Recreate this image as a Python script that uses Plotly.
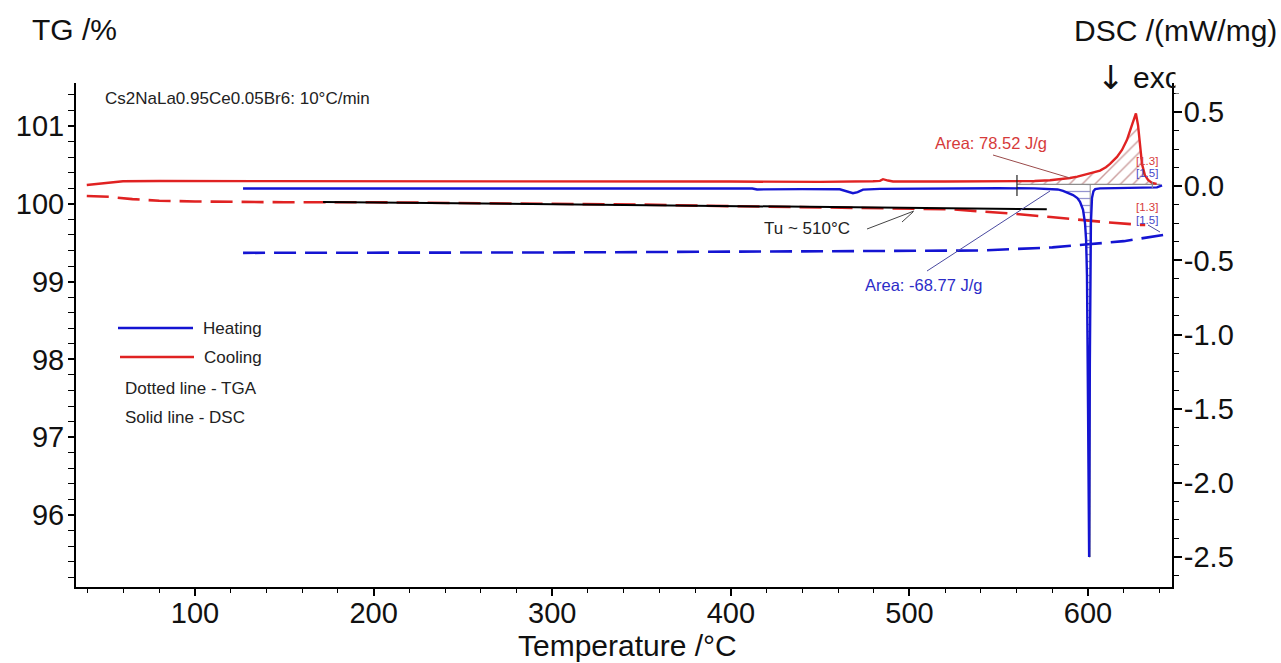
import numpy as np
import plotly.graph_objects as go

# ---------------- data ----------------
# DSC, heating run (mW/mg)
heat_dsc_t = [126.9, 160, 200, 250, 300, 350, 400, 408, 412, 414.7, 419, 440, 461, 465,
              468.4, 471, 474, 483.5, 500, 522.7, 550, 570, 578.7, 583, 586.0, 589, 591.6,
              594, 595.5, 597.2, 598.3, 598.9, 599.4, 600.0, 600.6, 601.0, 601.6, 602.2,
              603.0, 604.0, 606.7, 615, 625, 634.7, 638.6, 641.4]
heat_dsc = [-0.016, -0.016, -0.015, -0.015, -0.015, -0.014, -0.012, -0.011, -0.016, -0.022,
            -0.021, -0.020, -0.021, -0.034, -0.047, -0.040, -0.023, -0.018, -0.016, -0.015,
            -0.014, -0.015, -0.017, -0.022, -0.032, -0.045, -0.060, -0.080, -0.105, -0.16,
            -0.25, -0.36, -0.60, -1.5, -2.50, -1.2, -0.25, -0.08, -0.035, -0.020, -0.015,
            -0.013, -0.013, -0.013, -0.008, 0.006]

# DSC, cooling run (mW/mg)
cool_dsc_t = [39.4, 45, 52.4, 59.7, 80, 120, 200, 300, 400, 450, 477.9, 479.6, 483.5, 485.2,
              488, 490.8, 520, 560.2, 570, 578.7, 585, 589.9, 594, 598.3, 602, 606.7, 610,
              612.3, 616.2, 619, 621.8, 624, 625.7, 626.8, 628, 629, 630.2, 631.8, 633.6,
              635.8, 638.4]
cool_dsc = [0.008, 0.016, 0.024, 0.033, 0.035, 0.035, 0.035, 0.034, 0.031, 0.029, 0.028,
            0.033, 0.036, 0.047, 0.038, 0.032, 0.031, 0.031, 0.035, 0.040, 0.047, 0.055,
            0.064, 0.076, 0.090, 0.105, 0.128, 0.150, 0.197, 0.244, 0.312, 0.392, 0.46,
            0.49, 0.41, 0.29, 0.15, 0.075, 0.042, 0.022, 0.015]

# TG, heating run (%)
heat_tg_t = [126.9, 200, 300, 400, 450, 500, 540, 560, 580, 600, 620, 642]
heat_tg = [99.37, 99.37, 99.375, 99.385, 99.39, 99.395, 99.40, 99.42, 99.44, 99.48, 99.52, 99.60]

# TG, cooling run (%)
cool_tg_t = [39.4, 52, 65, 80, 100, 150, 200, 250, 300, 350, 400, 450, 500, 523, 541, 560,
             579, 597, 612, 629, 632]
cool_tg = [100.10, 100.09, 100.06, 100.04, 100.03, 100.02, 100.02, 100.01, 100.00, 99.99,
           99.97, 99.95, 99.93, 99.93, 99.90, 99.87, 99.83, 99.79, 99.76, 99.73, 99.73]

# tangent used for the onset estimate (Tu ~ 510 °C)
onset_t = [171.7, 576.9]
onset_tg = [100.025, 99.93]

# peak integration limits
cool_peak_limits = (560.2, 636.0)
heat_peak_limit = 601.2
peak_baseline = 0.012

x_ticks = [100, 200, 300, 400, 500, 600]
tg_ticks = [96, 97, 98, 99, 100, 101]
dsc_ticks = [0.5, 0.0, -0.5, -1.0, -1.5, -2.0, -2.5]

# ---------------- styling ----------------
FONT = "Liberation Sans, Arial, sans-serif"
RED = "#e02222"
BLUE = "#1414d2"
RED_TXT = "#d63a3a"
BLUE_TXT = "#2c2cc8"
DASH = "22px,9px"

W, H = 1281, 663
PL, PR, PT, PB = 76, 1172, 83, 587


def fx(p):
    return (p - PL) / (PR - PL)


def fy(p):
    return (PB - p) / (PB - PT)


fig = go.Figure()

# hatched area under the cooling (exothermic) peak
t = np.array(cool_dsc_t)
d = np.array(cool_dsc)
m = (t >= cool_peak_limits[0]) & (t <= cool_peak_limits[1])
fig.add_trace(go.Scatter(
    x=list(t[m]) + [cool_peak_limits[1], cool_peak_limits[0]],
    y=list(d[m]) + [peak_baseline, peak_baseline],
    yaxis="y2", mode="lines", fill="toself", line=dict(width=0),
    fillcolor="rgba(0,0,0,0)",
    fillpattern=dict(shape="/", size=9, solidity=0.16, fgcolor="#9a4040",
                     bgcolor="rgba(0,0,0,0)"),
    hoverinfo="skip"))

# hatched area on the heating (endothermic) peak
th = np.array(heat_dsc_t)
dh = np.array(heat_dsc)
imin = int(np.argmin(dh))
mh = (th >= 585) & (np.arange(len(th)) <= imin)
fig.add_trace(go.Scatter(
    x=list(th[mh]) + [heat_peak_limit, heat_peak_limit],
    y=list(dh[mh]) + [dh[imin], peak_baseline],
    yaxis="y2", mode="lines", fill="toself", line=dict(width=1, color="#8a8a8a"),
    fillcolor="rgba(0,0,0,0)",
    fillpattern=dict(shape="-", size=7, solidity=0.18, fgcolor="#2a2aa0",
                     bgcolor="rgba(0,0,0,0)"),
    hoverinfo="skip"))

# integration baseline
fig.add_trace(go.Scatter(x=[cool_peak_limits[0], 640.5], y=[peak_baseline, peak_baseline],
                         yaxis="y2", mode="lines", line=dict(color="#8c8c8c", width=1.2)))

# TG curves (dashed)
fig.add_trace(go.Scatter(x=cool_tg_t, y=cool_tg, mode="lines",
                         line=dict(color=RED, width=2.6, dash=DASH)))
fig.add_trace(go.Scatter(x=heat_tg_t, y=heat_tg, mode="lines",
                         line=dict(color=BLUE, width=2.6, dash=DASH)))
fig.add_trace(go.Scatter(x=onset_t, y=onset_tg, mode="lines",
                         line=dict(color="black", width=2)))

# DSC curves (solid)
fig.add_trace(go.Scatter(x=cool_dsc_t, y=cool_dsc, yaxis="y2", mode="lines",
                         line=dict(color=RED, width=2.4)))
fig.add_trace(go.Scatter(x=heat_dsc_t, y=heat_dsc, yaxis="y2", mode="lines",
                         line=dict(color=BLUE, width=2.4)))

tickfont = dict(family=FONT, size=29, color="#111111")


def label(text, x, y, size, color, xanchor="left", yanchor="middle", family=FONT):
    return dict(text=text, x=fx(x), y=fy(y), xref="paper", yref="paper",
                showarrow=False, xanchor=xanchor, yanchor=yanchor,
                font=dict(family=family, size=size, color=color))


def seg(x0, y0, x1, y1, color, width=1.0):
    return dict(type="line", xref="paper", yref="paper", x0=fx(x0), y0=fy(y0),
                x1=fx(x1), y1=fy(y1), line=dict(color=color, width=width))


shapes = [
    # integration limit markers
    dict(type="line", xref="x", yref="y2", x0=cool_peak_limits[0], x1=cool_peak_limits[0],
         y0=0.075, y1=-0.066, line=dict(color="#222222", width=1.2)),
    dict(type="line", xref="x", yref="y2", x0=cool_peak_limits[1], x1=cool_peak_limits[1],
         y0=0.03, y1=-0.013, line=dict(color="#8c8c8c", width=1.2)),
    # leader lines
    seg(993, 155, 1070, 178, "#9a4a4a", 1),
    seg(927, 271, 1050, 191, "#4a4aa0", 1),
    seg(867, 229, 914, 211, "#444444", 1),
    seg(902, 222, 913, 212, "#444444", 1),
    seg(1148, 225, 1160, 232, "#4a4aa0", 1),
    # legend samples
    seg(118, 328, 193, 328, BLUE, 2.5),
    seg(120, 357, 194, 357, RED, 2.5),
]

annotations = [
    label("TG /%", 30, 30, 30, "#111111"),
    label("DSC /(mW/mg)", 1279, 31, 30, "#111111", xanchor="right"),
    label("\u2193", 1095, 77, 33, "#111111", family="DejaVu Sans, Liberation Sans"),
    label("exo", 1131, 77, 30, "#111111"),
    # white box: the right axis frame clips the end of the "exo" label
    dict(text=" ", x=fx(1175), y=fy(56), xref="paper", yref="paper", showarrow=False,
         xanchor="left", yanchor="top", width=45, height=36, bgcolor="white",
         borderpad=0, font=dict(size=10)),
    label("Temperature /\u00b0C", 627, 645, 30, "#111111", xanchor="center"),
    label("Cs2NaLa0.95Ce0.05Br6: 10\u00b0C/min", 103, 98, 17, "#222222"),
    label("Area: 78.52 J/g", 1049, 143, 16.5, RED_TXT, xanchor="right"),
    label("Tu ~ 510\u00b0C", 762, 228, 17, "#222222"),
    label("Area: -68.77 J/g", 863, 285, 16.5, BLUE_TXT),
    label("[1.3]", 1147, 161, 11.5, RED_TXT, xanchor="center"),
    label("[1.5]", 1147, 173, 11.5, "#4848c8", xanchor="center"),
    label("[1.3]", 1147, 207, 11.5, RED_TXT, xanchor="center"),
    label("[1.5]", 1147, 220, 11.5, "#4848c8", xanchor="center"),
    label("Heating", 201, 328, 17, "#222222"),
    label("Cooling", 202, 357, 17, "#222222"),
    label("Dotted line - TGA", 123, 388, 17, "#222222"),
    label("Solid line - DSC", 123, 417, 17, "#222222"),
]

fig.update_layout(
    width=W, height=H,
    margin=dict(l=PL, r=W - PR, t=PT, b=H - PB, pad=0),
    paper_bgcolor="white", plot_bgcolor="white",
    showlegend=False,
    shapes=shapes,
    annotations=annotations,
    xaxis=dict(
        range=[33.37, 647.0], tickvals=x_ticks, ticktext=[str(v) for v in x_ticks],
        ticks="outside", ticklen=7, tickwidth=1.5, tickcolor="black",
        showline=True, linecolor="black", linewidth=2, mirror=False,
        showgrid=False, zeroline=False, tickfont=tickfont, ticklabelstandoff=-8,
        minor=dict(dtick=20, tick0=0, ticks="outside", ticklen=4, tickwidth=1.2,
                   tickcolor="black", showgrid=False),
    ),
    yaxis=dict(
        range=[95.075, 101.553], tickvals=tg_ticks, ticktext=[str(v) for v in tg_ticks],
        ticks="outside", ticklen=6, tickwidth=1.5, tickcolor="black",
        showline=True, linecolor="black", linewidth=2,
        showgrid=False, zeroline=False, tickfont=tickfont, ticklabelstandoff=-2,
        minor=dict(dtick=0.2, tick0=0, ticks="outside", ticklen=6, tickwidth=1.2,
                   tickcolor="black", showgrid=False),
    ),
    yaxis2=dict(
        range=[-2.702, 0.6955], overlaying="y", side="right",
        tickvals=dsc_ticks, ticktext=[f"{v:.1f}" for v in dsc_ticks],
        ticks="outside", ticklen=8, tickwidth=1.5, tickcolor="black",
        showline=True, linecolor="black", linewidth=2,
        showgrid=False, zeroline=False, tickfont=tickfont, ticklabelstandoff=-4,
        minor=dict(dtick=0.125, tick0=0, ticks="outside", ticklen=5, tickwidth=1.2,
                   tickcolor="black", showgrid=False),
    ),
)

fig.write_html("out.html")
